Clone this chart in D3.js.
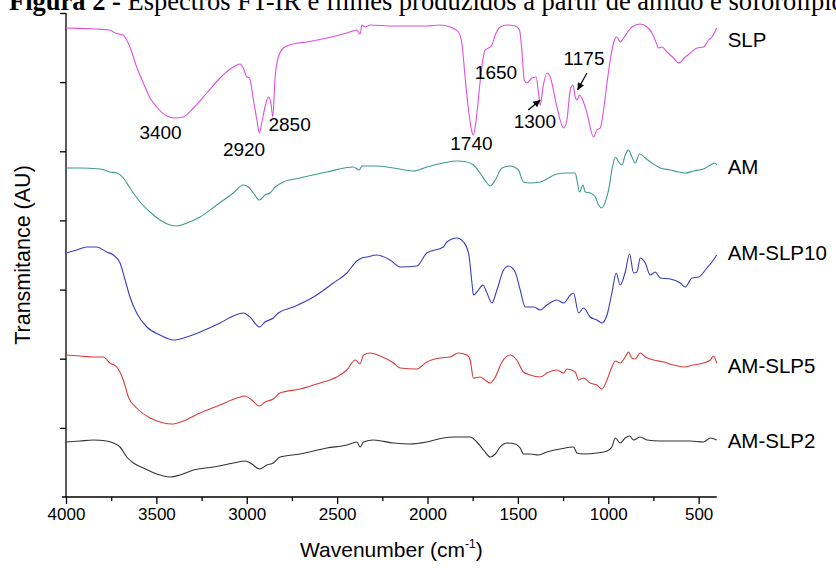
<!DOCTYPE html>
<html><head><meta charset="utf-8">
<script src="https://cdn.jsdelivr.net/npm/d3@7"></script>
<style>
html,body{margin:0;padding:0;background:#fff;}
svg{display:block;}
</style></head>
<body>
<svg id="chart" width="836" height="568"></svg>
<script>
// ---- DATA (wavenumber cm-1, transmittance AU with vertical offsets) ----
const seriesNames = ["SLP", "AM", "AM-SLP10", "AM-SLP5", "AM-SLP2"];
const seriesColors = ["#df4fdf", "#3f9a8c", "#3b3bbf", "#d83c3c", "#333333"];

const SLP = [[4000,469],[3757,467],[3729,464],[3685,462],[3664,457],[3646,450],[3609,430],[3572,414],[3535,399],[3498,390],[3443,381],[3397,379],[3351,380],[3295,389],[3221,404],[3148,419],[3074,430],[3037,433],[3019,429],[3000,420],[2985,419],[2963,397],[2944,377],[2930,364],[2917,374],[2899,390],[2880,400],[2867,395],[2856,380],[2843,420],[2825,440],[2797,449],[2742,453],[2668,455],[2557,459],[2446,464],[2391,467],[2373,463],[2363,472],[2345,470],[2317,472],[2190,471],[2004,471],[1930,472],[1875,470],[1829,465],[1810,454],[1792,420],[1773,387],[1754,365],[1746,362],[1731,377],[1712,410],[1694,437],[1681,447],[1663,449],[1644,452],[1625,462],[1598,470],[1561,472],[1515,471],[1491,467],[1478,447],[1465,417],[1450,414],[1422,419],[1399,420],[1386,404],[1376,392],[1361,410],[1339,424],[1321,420],[1284,390],[1247,369],[1229,377],[1210,407],[1195,412],[1183,400],[1173,397],[1159,402],[1146,399],[1118,384],[1081,360],[1063,367],[1044,369],[1026,387],[1007,414],[989,437],[971,454],[952,460],[934,455],[915,459],[896,464],[869,470],[823,473],[786,470],[758,464],[734,454],[722,449],[703,450],[675,445],[639,439],[611,434],[574,440],[546,444],[509,449],[473,450],[445,457],[426,460],[400,469]];

const AM = [[4000,329],[3923,329],[3812,328],[3757,325],[3719,324],[3683,319],[3646,309],[3590,295],[3535,285],[3480,277],[3424,272],[3387,271],[3332,274],[3258,280],[3166,292],[3074,304],[3019,312],[2991,310],[2963,304],[2930,297],[2899,302],[2871,304],[2843,310],[2797,315],[2705,319],[2557,325],[2410,330],[2377,327],[2363,331],[2280,331],[2188,329],[2078,326],[2004,330],[1912,334],[1837,336],[1782,335],[1746,332],[1709,324],[1671,314],[1653,311],[1625,317],[1588,329],[1542,331],[1497,327],[1469,315],[1432,314],[1376,315],[1284,323],[1229,324],[1183,324],[1170,314],[1159,305],[1140,312],[1127,305],[1100,304],[1072,300],[1054,292],[1035,289],[1017,295],[998,307],[980,327],[961,340],[943,335],[924,332],[906,342],[888,347],[869,340],[851,334],[827,343],[795,339],[758,334],[712,329],[657,327],[611,325],[574,324],[528,326],[473,328],[435,332],[408,334],[400,332]];

const AM_SLP10 = [[4000,244],[3941,247],[3885,250],[3830,250],[3775,245],[3738,242],[3701,234],[3673,217],[3646,200],[3609,184],[3553,170],[3480,162],[3406,157],[3332,160],[3258,165],[3148,174],[3074,181],[3019,184],[2982,180],[2930,170],[2899,175],[2853,179],[2825,184],[2742,190],[2631,200],[2521,214],[2446,224],[2391,236],[2363,239],[2336,240],[2280,242],[2207,237],[2151,230],[2059,231],[2004,244],[1912,250],[1893,255],[1837,259],[1801,255],[1773,244],[1754,214],[1746,202],[1718,207],[1694,212],[1671,204],[1644,194],[1616,207],[1579,227],[1552,231],[1515,225],[1487,207],[1459,190],[1413,190],[1376,187],[1339,192],[1284,197],[1247,194],[1210,202],[1192,204],[1164,184],[1137,189],[1100,180],[1063,177],[1035,174],[1007,182],[980,204],[956,224],[934,212],[906,225],[882,243],[860,224],[841,225],[823,239],[795,234],[768,222],[740,225],[712,219],[657,218],[602,214],[574,210],[537,219],[500,220],[454,229],[426,235],[400,242]];

const AM_SLP5 = [[4000,142],[3923,141],[3849,140],[3794,140],[3757,134],[3719,130],[3683,117],[3655,100],[3609,89],[3535,79],[3461,74],[3415,73],[3351,76],[3258,84],[3148,92],[3055,99],[3009,101],[2972,97],[2930,91],[2899,95],[2853,98],[2816,104],[2705,108],[2594,114],[2502,120],[2446,127],[2400,137],[2373,133],[2354,142],[2317,144],[2262,141],[2188,134],[2151,129],[2059,128],[2004,135],[1930,139],[1875,140],[1829,144],[1782,142],[1764,137],[1746,119],[1709,120],[1681,117],[1653,114],[1625,120],[1588,135],[1542,142],[1506,137],[1469,125],[1432,122],[1376,120],[1339,124],[1284,127],[1247,124],[1229,128],[1183,125],[1164,117],[1137,119],[1100,114],[1063,112],[1035,108],[1007,117],[980,130],[961,136],[934,134],[906,140],[888,145],[869,139],[851,138],[823,144],[795,140],[749,137],[694,135],[639,132],[583,130],[528,132],[473,134],[435,137],[417,141],[400,134]];

const AM_SLP2 = [[4000,55],[3923,56],[3849,57],[3775,56],[3738,54],[3701,50],[3664,40],[3627,34],[3572,29],[3498,23],[3424,20],[3369,22],[3295,27],[3185,30],[3074,34],[3009,36],[2972,33],[2930,28],[2889,32],[2853,34],[2816,40],[2705,43],[2557,49],[2446,52],[2391,55],[2373,50],[2354,55],[2299,57],[2188,54],[2096,53],[2004,55],[1912,59],[1856,60],[1801,60],[1764,60],[1727,55],[1690,47],[1653,40],[1625,43],[1598,50],[1561,54],[1515,53],[1487,49],[1469,43],[1432,43],[1386,42],[1339,45],[1266,48],[1192,50],[1173,44],[1137,43],[1063,44],[1007,46],[980,50],[961,59],[934,54],[906,59],[882,61],[860,57],[823,60],[786,57],[712,56],[639,56],[546,56],[473,55],[435,59],[400,57]];

const seriesData = [SLP, AM, AM_SLP10, AM_SLP5, AM_SLP2];

// label positions (wavenumber of label start side, value of baseline)
const seriesLabelWn = [400, 400, 400, 400, 400];
const seriesLabelVal = [451, 324, 238, 125, 50];

// peak annotations: text, center wavenumber, baseline value
const peakText = ["3400", "2920", "2850", "1740", "1650", "1300", "1175"];
const peakWn = [3477, 3015, 2763, 1757, 1621, 1406, 1134];
const peakVal = [358, 341, 366, 347, 418, 369, 432];

// arrows: [fromWn, fromVal, toWn, toVal]
const arrows = [[1443, 387, 1376, 397], [1118, 424, 1170, 407]];

const xMajorTicks = [4000, 3500, 3000, 2500, 2000, 1500, 1000, 500];
const xMinorTicks = [3750, 3250, 2750, 2250, 1750, 1250, 750];
const yTicks = [69.1, 138.3, 207.4, 276.6, 345.7, 414.9, 484];

const titleBold = "Figura 2 -";
const titleRest = " Espectros FT-IR e filmes produzidos a partir de amido e soforolipídio";
const xLabel = "Wavenumber (cm";
const yLabel = "Transmitance (AU)";

// ---- CHART ----
const svg = d3.select("#chart");
const x = d3.scaleLinear().domain([4000, 400]).range([66, 716.7]);
const y = d3.scaleLinear().domain([0, 484]).range([497, 13]);

const sans = "'Liberation Sans', Arial, sans-serif";

// title (partially cut at top, as in the source page)
const title = svg.append("text")
  .attr("x", 9).attr("y", 10)
  .attr("font-family", "'Liberation Serif', 'Times New Roman', serif")
  .attr("font-size", 26.5).attr("fill", "#000");
title.append("tspan").attr("font-weight", "bold").text(titleBold);
title.append("tspan").text(titleRest);

// y axis
const yAxis = d3.axisLeft(y).tickValues(yTicks).tickSize(6).tickFormat("");
const gy = svg.append("g").attr("transform", "translate(66,0)").call(yAxis);
gy.select(".domain").attr("d", `M0,${y(484)}V${y(0)}`).attr("stroke", "#000").attr("stroke-width", 1.3);
gy.selectAll(".tick line").attr("stroke", "#000").attr("stroke-width", 1.3);

// x axis
const xAxis = d3.axisBottom(x).tickValues(xMajorTicks).tickSize(7).tickPadding(4)
  .tickFormat(d3.format("d"));
const gx = svg.append("g").attr("transform", "translate(0,497)").call(xAxis);
gx.select(".domain").attr("d", `M62,0H${x(400)}`).attr("stroke", "#000").attr("stroke-width", 1.3);
gx.selectAll(".tick line").attr("stroke", "#000").attr("stroke-width", 1.3);
gx.selectAll(".tick text").attr("font-family", sans).attr("font-size", 17).attr("fill", "#000");
const gxm = svg.append("g").attr("transform", "translate(0,497)")
  .call(d3.axisBottom(x).tickValues(xMinorTicks).tickSize(4).tickFormat(""));
gxm.select(".domain").remove();
gxm.selectAll(".tick line").attr("stroke", "#000").attr("stroke-width", 1.3);

// axis labels
const xl = svg.append("text").attr("x", (x(4000) + x(400)) / 2).attr("y", 557)
  .attr("text-anchor", "middle").attr("font-family", sans).attr("font-size", 21).attr("fill", "#000");
xl.append("tspan").text(xLabel);
xl.append("tspan").attr("font-size", 12).attr("dy", -9).text("-1");
xl.append("tspan").attr("dy", 9).text(")");

svg.append("text").attr("transform", `translate(30,${(y(0)+y(484))/2}) rotate(-90)`)
  .attr("text-anchor", "middle").attr("font-family", sans).attr("font-size", 21.5).attr("fill", "#000")
  .text(yLabel);

// lines
const line = d3.line().x(d => x(d[0])).y(d => y(d[1])).curve(d3.curveMonotoneX);
seriesData.forEach((s, i) => {
  svg.append("path").datum(s).attr("d", line)
    .attr("fill", "none").attr("stroke", seriesColors[i]).attr("stroke-width", 1.1)
    .attr("stroke-linejoin", "round");
});

// series labels
seriesNames.forEach((n, i) => {
  svg.append("text").attr("x", x(seriesLabelWn[i]) + 11).attr("y", y(seriesLabelVal[i]) + 1)
    .attr("font-family", sans).attr("font-size", 20.5).attr("fill", "#000").text(n);
});

// peak labels
peakText.forEach((t, i) => {
  svg.append("text").attr("x", x(peakWn[i])).attr("y", y(peakVal[i]))
    .attr("text-anchor", "middle").attr("font-family", sans).attr("font-size", 19).attr("fill", "#000").text(t);
});

// arrows
const defs = svg.append("defs");
defs.append("marker").attr("id", "ah").attr("viewBox", "0 0 10 10").attr("refX", 10).attr("refY", 5)
  .attr("markerWidth", 9).attr("markerHeight", 7).attr("markerUnits", "userSpaceOnUse").attr("orient", "auto")
  .append("path").attr("d", "M0,0L10,5L0,10Z").attr("fill", "#000");
arrows.forEach(a => {
  svg.append("line").attr("x1", x(a[0])).attr("y1", y(a[1])).attr("x2", x(a[2])).attr("y2", y(a[3]))
    .attr("stroke", "#000").attr("stroke-width", 1.2).attr("marker-end", "url(#ah)");
});
</script>
</body></html>
